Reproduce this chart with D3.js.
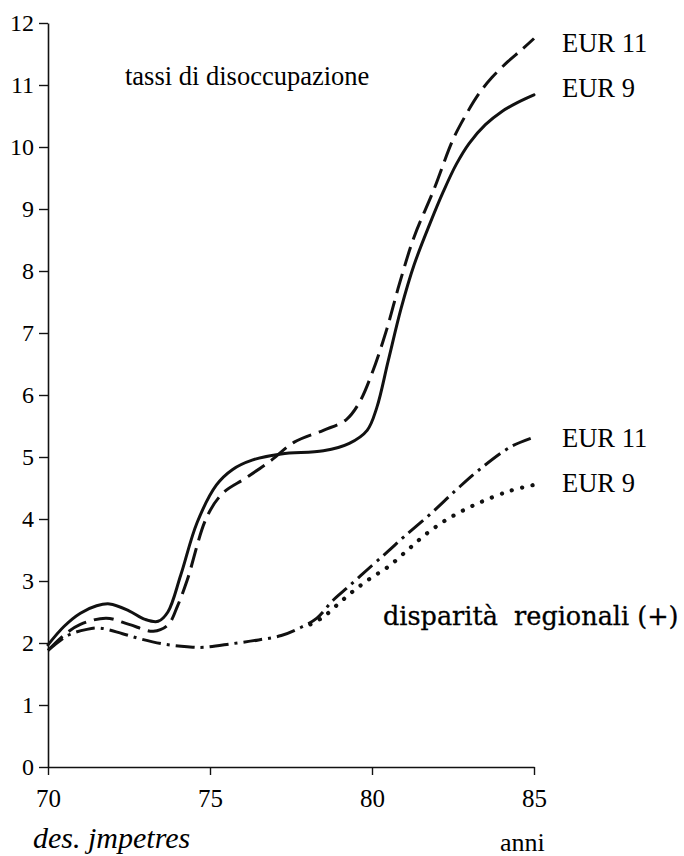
<!DOCTYPE html>
<html>
<head>
<meta charset="utf-8">
<script src="https://cdn.jsdelivr.net/npm/d3@7"></script>
<style>
  html, body { margin: 0; padding: 0; background: #fff; }
  svg { display: block; }
  text { fill: #000; }
</style>
</head>
<body>
<svg id="chart" width="684" height="856"></svg>
<script>
// ---- data ----
const yTicks = [0,1,2,3,4,5,6,7,8,9,10,11,12];
const xTicks = [70, 75, 80, 85];

// tassi di disoccupazione EUR 9 (solid)
const unempEur9X = [70.0,70.5,71.0,71.5,71.9,72.5,73.0,73.4,73.7,74.1,74.6,75.2,75.7,76.3,77.2,78.5,79.3,79.85,80.15,80.5,80.9,81.3,81.8,82.2,82.6,83.0,83.5,84.0,84.5,85.0];
const unempEur9Y = [1.97,2.27,2.48,2.60,2.63,2.52,2.38,2.35,2.50,3.10,3.94,4.55,4.80,4.95,5.05,5.10,5.22,5.43,5.80,6.55,7.40,8.10,8.78,9.28,9.72,10.06,10.36,10.57,10.72,10.84];

// tassi di disoccupazione EUR 11 (dashed)
const unempEur11X = [70.0,70.5,71.0,71.8,72.5,73.25,73.7,74.0,74.3,74.9,75.4,76.1,76.9,77.6,78.5,79.2,79.6,80.0,80.45,80.85,81.3,81.9,82.5,82.9,83.3,83.7,84.2,84.6,85.0];
const unempEur11Y = [1.88,2.13,2.30,2.40,2.30,2.19,2.29,2.60,3.02,4.03,4.42,4.66,4.95,5.24,5.43,5.60,5.87,6.35,7.05,7.80,8.55,9.30,10.12,10.52,10.86,11.12,11.38,11.56,11.75];

// disparità regionali EUR 11 (dash-dot)
const dispEur11X = [70.0,70.6,71.2,71.6,72.3,72.9,73.6,74.3,74.8,75.7,76.5,77.2,77.8,78.3,78.8,79.3,80.0,80.5,81.0,81.8,82.6,83.3,84.3,85.0];
const dispEur11Y = [1.88,2.12,2.22,2.24,2.15,2.06,1.98,1.94,1.93,1.99,2.05,2.12,2.25,2.40,2.69,2.92,3.25,3.48,3.72,4.08,4.47,4.79,5.17,5.32];

// disparità regionali EUR 9 (dotted)
const dispEur9X = [78.1,78.5,79.0,79.5,80.0,80.5,81.1,81.7,82.4,83.3,84.3,85.0];
const dispEur9Y = [2.30,2.42,2.65,2.87,3.06,3.23,3.50,3.77,4.02,4.26,4.46,4.55];

const seriesNames = ["EUR 11", "EUR 9", "EUR 11", "EUR 9"];

// ---- drawing ----
const svg = d3.select("#chart");
const x = d3.scaleLinear().domain([70, 85]).range([48, 534]);
const y = d3.scaleLinear().domain([0, 12]).range([767, 23]);
const serif = "'Liberation Serif', 'Times New Roman', serif";

const zip = (xs, ys) => xs.map((v, i) => [v, ys[i]]);
const line = d3.line().x(d => x(d[0])).y(d => y(d[1])).curve(d3.curveCatmullRom.alpha(0.5));

// axes
const yAxis = d3.axisLeft(y).tickValues(yTicks).tickSize(9).tickSizeOuter(0).tickPadding(5).tickFormat(d3.format("d"));
const xAxis = d3.axisBottom(x).tickValues(xTicks).tickSize(8).tickSizeOuter(0).tickPadding(14).tickFormat(d3.format("d"));

const gy = svg.append("g").attr("transform", `translate(${x(70)},0)`).call(yAxis);
const gx = svg.append("g").attr("transform", `translate(0,${y(0)})`).call(xAxis);
[gy, gx].forEach(g => {
  g.attr("font-family", serif);
  g.selectAll("path.domain").attr("stroke", "#111").attr("stroke-width", 1.6);
  g.selectAll(".tick line").attr("stroke", "#111").attr("stroke-width", 1.4);
  g.selectAll(".tick text").attr("font-family", serif).attr("fill", "#000");
});
gy.selectAll(".tick text").attr("font-size", 24);
gx.selectAll(".tick text").attr("font-size", 25);

// lines
const styles = [
  { data: zip(unempEur11X, unempEur11Y), dash: "20,8", width: 3, cap: "butt" },
  { data: zip(unempEur9X, unempEur9Y), dash: null, width: 3, cap: "round" },
  { data: zip(dispEur11X, dispEur11Y), dash: "19,6,3,6", width: 3, cap: "butt" },
  { data: zip(dispEur9X, dispEur9Y), dash: "0.1,10.5", width: 4.2, cap: "round" }
];
styles.forEach(s => {
  svg.append("path")
    .attr("d", line(s.data))
    .attr("fill", "none")
    .attr("stroke", "#111")
    .attr("stroke-width", s.width)
    .attr("stroke-linecap", s.cap)
    .attr("stroke-dasharray", s.dash);
});

// series labels
const labelY = [52, 97, 447, 492];
seriesNames.forEach((n, i) => {
  svg.append("text").attr("x", 562).attr("y", labelY[i])
    .attr("font-family", serif).attr("font-size", 26.5).text(n);
});

// annotations
svg.append("text").attr("x", 125).attr("y", 85)
  .attr("font-family", serif).attr("font-size", 26.5).text("tassi di disoccupazione");

svg.append("text").attr("x", 383).attr("y", 625)
  .attr("font-family", "'DejaVu Serif', serif").attr("font-size", 25.5)
  .attr("stroke", "#000").attr("stroke-width", 0.3)
  .style("white-space", "pre").text("disparità  regionali (+)");

svg.append("text").attr("x", 500).attr("y", 851)
  .attr("font-family", serif).attr("font-size", 26).text("anni");

svg.append("text").attr("x", 33).attr("y", 848)
  .attr("font-family", serif).attr("font-style", "italic").attr("font-size", 30).text("des. jmpetres");
</script>
</body>
</html>
